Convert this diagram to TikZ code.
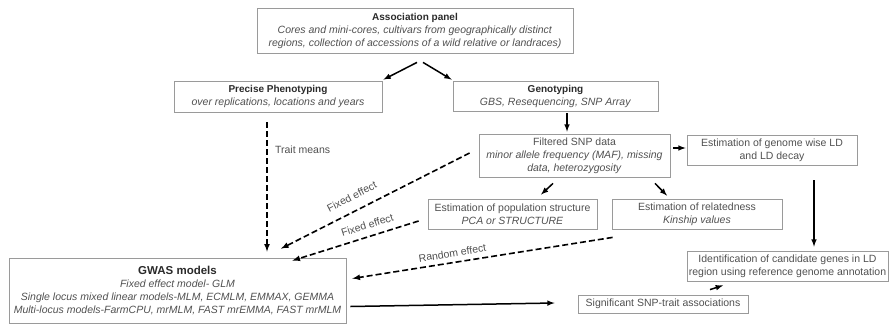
\documentclass[tikz,border=0pt]{standalone}
\usepackage{fontspec}
\setmainfont{Liberation Sans}
\definecolor{boxline}{HTML}{9A9A9A}
\definecolor{headtext}{HTML}{2A2A2A}
\definecolor{bodytext}{HTML}{505050}
\newcommand{\boxhead}[1]{{\color{headtext}\fontsize{10}{13}\selectfont\bfseries #1}}
\tikzset{
	box/.style={draw=boxline, line width=0.8pt, rectangle, align=center, inner sep=1pt, text=bodytext, font=\fontsize{10.5}{13}\selectfont},
	solidarrow/.style={-latex, line width=1.5pt},
	dasharrow/.style={-latex, line width=1.6pt, dash pattern=on 6pt off 3pt},
	edgelabel/.style={text=bodytext, font=\fontsize{10.5}{12}\selectfont}
}

\begin{document}
\begin{tikzpicture}[x=1pt, y=-1pt]
		\useasboundingbox (0,0) rectangle (889,324);
		\node (panel)[box, minimum width=316pt, minimum height=45pt] at (415,30.5) {\boxhead{Association panel}\\ \textit{Cores and mini-cores, cultivars from geographically distinct}\\ \textit{regions, collection of accessions of a wild relative or landraces)}};
		\node (pheno)[box, minimum width=208pt, minimum height=31pt] at (278,96.5) {\boxhead{Precise Phenotyping}\\ \textit{over replications, locations and years}};
		\node (geno)[box, minimum width=205pt, minimum height=30pt] at (555.5,96) {\boxhead{Genotyping}\\ \textit{GBS, Resequencing, SNP Array}};
		\node (filt)[box, minimum width=191pt, minimum height=43pt] at (574.5,155.5) {Filtered SNP data\\ \textit{minor allele frequency (MAF), missing}\\ \textit{data, heterozygosity}};
		\node (ld)[box, minimum width=170pt, minimum height=30pt] at (772,150) {Estimation of genome wise LD\\ and LD decay};
		\node (pop)[box, minimum width=169pt, minimum height=30pt] at (512.5,214) {Estimation of population structure\\ \textit{PCA or STRUCTURE}};
		\node (rel)[box, minimum width=170pt, minimum height=30pt] at (697,214) {Estimation of relatedness\\ \textit{Kinship values}};
		\node (ident)[box, minimum width=201pt, minimum height=30pt] at (787.5,266) {Identification of candidate genes in LD\\ region using reference genome annotation};
		\node (gwas)[box, minimum width=337pt, minimum height=65pt] at (177.5,290.5) {{\color{headtext}\fontsize{11.5}{13}\selectfont\bfseries GWAS models}\\ \textit{Fixed effect model- GLM}\\ \textit{Single locus mixed linear models-MLM, ECMLM, EMMAX, GEMMA}\\ \textit{Multi-locus models-FarmCPU, mrMLM, FAST mrEMMA, FAST mrMLM}};
		\node (sig)[box, minimum width=170pt, minimum height=18pt] at (663,304) {Significant SNP-trait associations};

		% solid flow
		\draw [solidarrow]([xshift=2pt, yshift=-9pt]panel.south) -- ([xshift=1pt, yshift=1pt]pheno.north east);
		\draw [solidarrow]([xshift=8pt, yshift=-9pt]panel.south) -- ([xshift=-1pt, yshift=1pt]geno.north west);
		\draw [solidarrow]([xshift=11.5pt, yshift=-2pt]geno.south) -- ([xshift=-7.5pt, yshift=2pt]filt.north);
		\draw [solidarrow]([xshift=3pt, yshift=7.5pt]filt.east) -- ([xshift=-1pt, yshift=2pt]ld.west);
		\draw [solidarrow]([xshift=42pt, yshift=-15pt]ld.south) -- ([xshift=26.5pt, yshift=4pt]ident.north);
		\draw [solidarrow]([xshift=-21.5pt, yshift=-6pt]filt.south) -- ([xshift=28.5pt, yshift=4pt]pop.north);
		\draw [solidarrow]([xshift=80.5pt, yshift=-6pt]filt.south) -- ([xshift=-30pt, yshift=3pt]rel.north);
		\draw [solidarrow]([xshift=4pt, yshift=-16pt]gwas.east) -- ([xshift=-23pt, yshift=1pt]sig.west);
		\draw [solidarrow]([xshift=47pt, yshift=5pt]sig.north) -- ([xshift=-64.5pt, yshift=-4pt]ident.south);

		% dashed inputs to the models
		\draw [dasharrow]([xshift=-11pt, yshift=-10pt]pheno.south) -- node [edgelabel, pos=0.21, right=4pt]{Trait means} ([xshift=89.5pt, yshift=6pt]gwas.north);
		\draw [dasharrow]([xshift=-9pt, yshift=2.5pt]filt.west) -- node [edgelabel, pos=0.59, sloped, above=6.5pt]{Fixed effect} ([xshift=103.5pt, yshift=9pt]gwas.north);
		\draw [dasharrow]([xshift=-9pt, yshift=-7pt]pop.west) -- node [edgelabel, pos=0.38, sloped, above=3.5pt]{Fixed effect} ([xshift=-54pt, yshift=-3pt]gwas.north east);
		\draw [dasharrow]([xshift=1pt, yshift=-8pt]rel.south west) -- node [edgelabel, pos=0.61, sloped, above=1.5pt]{Random effect} ([xshift=6pt, yshift=12pt]gwas.east);
	\end{tikzpicture}
\end{document}
